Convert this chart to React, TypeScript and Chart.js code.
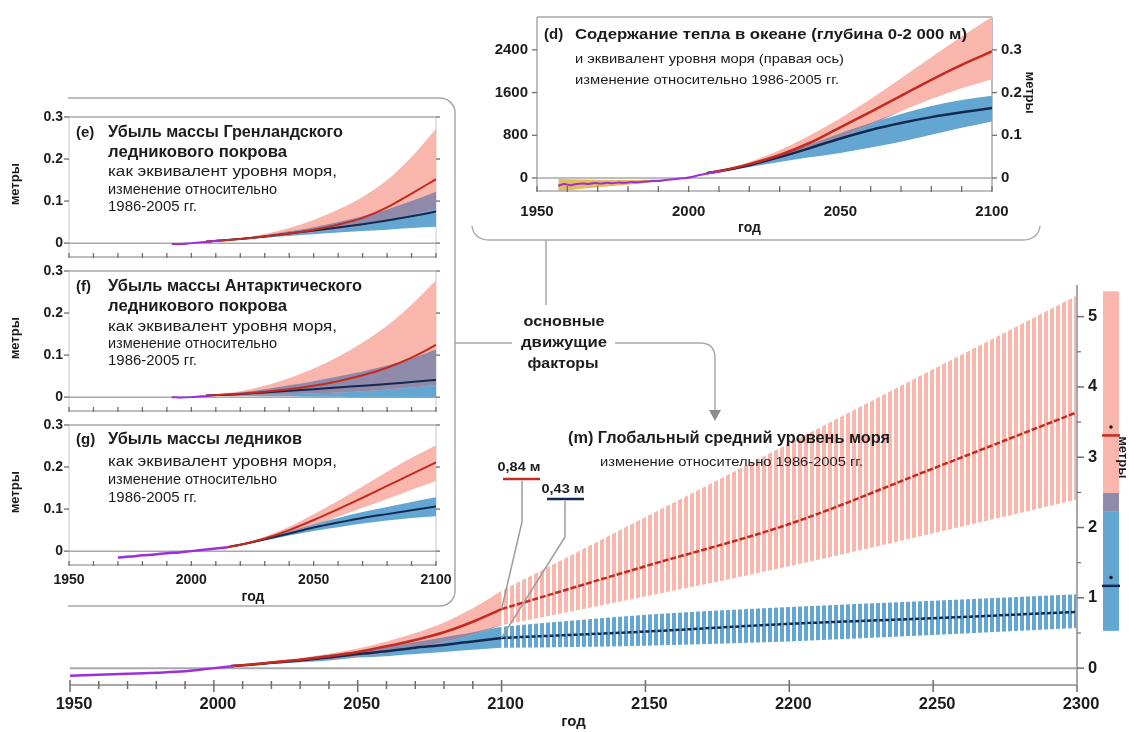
import React, { useEffect, useRef } from 'react';
import { Chart, registerables } from 'chart.js';

Chart.register(...registerables);

const W = 1129;
const H = 732;
const FONT = '"Liberation Sans", Arial, sans-serif';

const PINK = '#F8B6AC';
const BLUE = '#64A6D2';
const OVERLAP = '#8F8AAA';
const RED = '#C42A1F';
const NAVY = '#13294F';
const PURPLE = '#9B30D8';
const GOLD = '#E5BB60';
const FRAME = '#A8A8A8';
const TICK = '#6E6E6E';
const INK = '#1C1C1C';
const LEADER = '#9C9C9C';

// ---------- (m) global mean sea level, metres relative to 1986-2005 ----------
const gmslObsYears = [1950, 1960, 1970, 1980, 1990, 2000, 2007];
const gmslObs = [-0.11, -0.095, -0.08, -0.065, -0.045, 0.0, 0.03];

const gmslYears = [2006, 2010, 2020, 2030, 2040, 2050, 2060, 2070, 2080, 2090, 2100];
const gmslRcp85 = [0.03, 0.04, 0.08, 0.12, 0.17, 0.23, 0.31, 0.4, 0.51, 0.66, 0.84];
const gmslRcp85Low = [0.03, 0.035, 0.065, 0.095, 0.13, 0.17, 0.22, 0.29, 0.37, 0.48, 0.61];
const gmslRcp85High = [0.03, 0.045, 0.095, 0.145, 0.205, 0.28, 0.38, 0.5, 0.65, 0.85, 1.1];
const gmslRcp26 = [0.03, 0.04, 0.075, 0.11, 0.15, 0.2, 0.24, 0.29, 0.33, 0.38, 0.43];
const gmslRcp26Low = [0.03, 0.035, 0.06, 0.085, 0.11, 0.15, 0.17, 0.2, 0.23, 0.26, 0.29];
const gmslRcp26High = [0.03, 0.045, 0.09, 0.135, 0.19, 0.24, 0.3, 0.37, 0.44, 0.51, 0.59];

const gmslExtYears = [2100, 2150, 2200, 2250, 2300];
const gmslExtHigh = [0.84, 1.45, 2.05, 2.84, 3.64];
const gmslExtHighLow = [0.61, 1.02, 1.45, 1.92, 2.4];
const gmslExtHighHigh = [1.1, 2.15, 3.2, 4.25, 5.3];
const gmslExtLow = [0.43, 0.52, 0.63, 0.71, 0.8];
const gmslExtLowLow = [0.29, 0.32, 0.38, 0.47, 0.57];
const gmslExtLowHigh = [0.59, 0.76, 0.87, 0.96, 1.05];

// ranges for 2300 shown as bars beside the axis
const range2300High = [2.23, 5.36];
const median2300High = 3.31;
const mean2300High = 3.43;
const range2300Low = [0.53, 2.49];
const median2300Low = 1.17;
const mean2300Low = 1.29;

const gmslTickYears = [1950, 1960, 1970, 1980, 1990, 2000, 2010, 2020, 2030, 2040, 2050, 2060, 2070, 2080, 2090, 2100, 2150, 2200, 2250, 2300];
const gmslLabelYears = [1950, 2000, 2050, 2100, 2150, 2200, 2250, 2300];
const gmslMetreLabels = [0, 1, 2, 3, 4, 5];
const gmslMetreMinor = [0.5, 1.5, 2.5, 3.5, 4.5];

// ---------- (d) ocean heat content 0-2000 m ----------
const heatObsYears = [1957, 1959, 1961, 1963, 1965, 1967, 1969, 1971, 1973, 1975, 1977, 1979, 1981, 1983, 1985, 1987, 1989, 1991, 1993, 1995, 1997, 1999, 2001, 2003, 2005, 2007, 2009, 2011];
const heatObs = [-145, -115, -135, -112, -105, -112, -96, -104, -90, -98, -86, -90, -76, -80, -70, -60, -56, -50, -32, -26, -10, 0, 20, 48, 68, 92, 110, 128];
const heatBandYears = [1957, 1965, 1975, 1985, 1993];
const heatBandLow = [-250, -200, -150, -100, -45];
const heatBandHigh = [-20, -30, -40, -35, -20];

const heatYears = [2006, 2010, 2020, 2030, 2040, 2050, 2060, 2070, 2080, 2090, 2100];
const heatRcp85 = [90, 130, 260, 430, 660, 950, 1240, 1540, 1840, 2120, 2370];
const heatRcp85Low = [90, 120, 225, 360, 540, 760, 1000, 1250, 1480, 1680, 1850];
const heatRcp85High = [90, 140, 300, 520, 800, 1120, 1480, 1870, 2260, 2650, 3020];
const heatRcp26 = [90, 125, 240, 390, 560, 740, 900, 1030, 1140, 1230, 1310];
const heatRcp26Low = [90, 115, 205, 300, 390, 470, 570, 680, 810, 940, 1060];
const heatRcp26High = [90, 135, 265, 430, 630, 840, 1030, 1200, 1350, 1460, 1540];
const heatLeftTicks = [0, 800, 1600, 2400];
const heatRightTicks = [0, 0.1, 0.2, 0.3];
const heatPerMetre = 8000;

// ---------- (e) Greenland ice sheet ----------
const greenObsYears = [1992, 1996, 2000, 2004, 2008, 2012];
const greenObs = [-0.002, -0.002, 0.0, 0.002, 0.004, 0.007];
const greenYears = [2006, 2020, 2030, 2040, 2050, 2060, 2070, 2080, 2090, 2100];
const greenRcp85 = [0.004, 0.01, 0.016, 0.023, 0.032, 0.044, 0.06, 0.085, 0.118, 0.152];
const greenRcp85Low = [0.004, 0.009, 0.014, 0.02, 0.026, 0.033, 0.042, 0.053, 0.066, 0.082];
const greenRcp85High = [0.004, 0.012, 0.022, 0.036, 0.055, 0.08, 0.11, 0.15, 0.205, 0.272];
const greenRcp26 = [0.004, 0.01, 0.016, 0.023, 0.03, 0.037, 0.045, 0.054, 0.064, 0.075];
const greenRcp26Low = [0.004, 0.008, 0.013, 0.017, 0.021, 0.025, 0.029, 0.032, 0.036, 0.039];
const greenRcp26High = [0.004, 0.011, 0.019, 0.028, 0.038, 0.05, 0.064, 0.08, 0.1, 0.122];

// ---------- (f) Antarctic ice sheet ----------
const antObsYears = [1992, 1996, 2000, 2004, 2008];
const antObs = [0.0, -0.001, 0.0, 0.002, 0.003];
const antYears = [2006, 2020, 2030, 2040, 2050, 2060, 2070, 2080, 2090, 2100];
const antRcp85 = [0.004, 0.008, 0.013, 0.019, 0.027, 0.038, 0.052, 0.07, 0.094, 0.124];
const antRcp85Low = [0.004, 0.005, 0.006, 0.007, 0.009, 0.011, 0.014, 0.018, 0.023, 0.028];
const antRcp85High = [0.004, 0.014, 0.027, 0.045, 0.068, 0.096, 0.13, 0.17, 0.22, 0.278];
const antRcp26 = [0.004, 0.007, 0.011, 0.015, 0.019, 0.023, 0.027, 0.031, 0.036, 0.041];
const antRcp26Low = [0.004, 0.003, 0.002, 0.002, 0.001, 0.001, 0.0, 0.0, 0.0, 0.0];
const antRcp26High = [0.004, 0.011, 0.019, 0.028, 0.038, 0.049, 0.061, 0.075, 0.092, 0.113];

// ---------- (g) glaciers ----------
const glacObsYears = [1970, 1975, 1980, 1985, 1990, 1995, 2000, 2005, 2010, 2015];
const glacObs = [-0.015, -0.013, -0.01, -0.008, -0.005, -0.003, 0.0, 0.003, 0.006, 0.009];
const glacYears = [2015, 2020, 2030, 2040, 2050, 2060, 2070, 2080, 2090, 2100];
const glacRcp85 = [0.01, 0.015, 0.03, 0.05, 0.074, 0.1, 0.127, 0.155, 0.183, 0.211];
const glacRcp85Low = [0.01, 0.014, 0.027, 0.043, 0.062, 0.082, 0.103, 0.124, 0.146, 0.167];
const glacRcp85High = [0.01, 0.016, 0.034, 0.058, 0.088, 0.12, 0.154, 0.189, 0.222, 0.252];
const glacRcp26 = [0.01, 0.015, 0.028, 0.042, 0.056, 0.068, 0.079, 0.088, 0.097, 0.106];
const glacRcp26Low = [0.01, 0.014, 0.025, 0.037, 0.048, 0.057, 0.066, 0.073, 0.079, 0.083];
const glacRcp26High = [0.01, 0.016, 0.031, 0.047, 0.064, 0.079, 0.093, 0.105, 0.117, 0.128];

const insetDecades = [1950, 1960, 1970, 1980, 1990, 2000, 2010, 2020, 2030, 2040, 2050, 2060, 2070, 2080, 2090, 2100];
const insetYearLabels = [1950, 2000, 2050, 2100];
const insetMetreTicks = [0, 0.1, 0.2, 0.3];
const insetSubtitle = ['как эквивалент уровня моря,', 'изменение относительно', '1986-2005 гг.'];

// ---------- drawing helpers ----------
type Ctx = CanvasRenderingContext2D;
type TextOpts = { bold?: boolean; align?: 'left' | 'center' | 'right'; width?: number; color?: string };

function text(ctx: Ctx, s: string, x: number, y: number, size: number, o: TextOpts = {}) {
  ctx.save();
  ctx.font = `${o.bold ? 'bold ' : ''}${size}px ${FONT}`;
  ctx.fillStyle = o.color ?? INK;
  ctx.textBaseline = 'middle';
  ctx.textAlign = 'left';
  const w = ctx.measureText(s).width;
  const k = o.width ? o.width / w : 1;
  const dw = w * k;
  const left = o.align === 'center' ? x - dw / 2 : o.align === 'right' ? x - dw : x;
  ctx.translate(left, y);
  ctx.scale(k, 1);
  ctx.fillText(s, 0, 0);
  ctx.restore();
}

function vtext(ctx: Ctx, s: string, x: number, y: number, size: number, clockwise: boolean) {
  ctx.save();
  ctx.translate(x, y);
  ctx.rotate(clockwise ? Math.PI / 2 : -Math.PI / 2);
  ctx.font = `bold ${size}px ${FONT}`;
  ctx.fillStyle = INK;
  ctx.textAlign = 'center';
  ctx.textBaseline = 'middle';
  ctx.fillText(s, 0, 0);
  ctx.restore();
}

function stroke(ctx: Ctx, pts: number[][], color: string, width: number) {
  ctx.save();
  ctx.strokeStyle = color;
  ctx.lineWidth = width;
  ctx.beginPath();
  pts.forEach(([px, py], i) => (i ? ctx.lineTo(px, py) : ctx.moveTo(px, py)));
  ctx.stroke();
  ctx.restore();
}

const pts = (xs: number[], ys: number[]) => xs.map((x, i) => ({ x, y: ys[i] }));
const last = (a: number[]) => a[a.length - 1];
const metres = (v: number) => `${v.toFixed(2).replace('.', ',')} м`;

function lineSet(xs: number[], ys: number[], color: string, width: number, order: number, dash: number[] = []) {
  return {
    data: pts(xs, ys),
    borderColor: color,
    borderWidth: width,
    borderDash: dash,
    pointRadius: 0,
    fill: false,
    order,
    cubicInterpolationMode: 'monotone',
  };
}

function bandSet(xs: number[], lo: number[], hi: number[], color: any, order: number) {
  const base = { borderColor: 'rgba(0,0,0,0)', borderWidth: 0, pointRadius: 0, order, cubicInterpolationMode: 'monotone' };
  return [
    { ...base, data: pts(xs, hi), fill: '+1', backgroundColor: color },
    { ...base, data: pts(xs, lo), fill: false },
  ];
}

// both scenario ranges plus their shared part
function scenarioSets(xs: number[], hi85: number[], lo85: number[], up85: number[], mid26: number[], lo26: number[], up26: number[], width: number) {
  const shLo = xs.map((_, i) => Math.max(lo85[i], lo26[i]));
  const shHi = xs.map((_, i) => Math.max(shLo[i], Math.min(up85[i], up26[i])));
  return [
    lineSet(xs, hi85, RED, width, 1),
    lineSet(xs, mid26, NAVY, width, 2),
    ...bandSet(xs, shLo, shHi, OVERLAP, 3),
    ...bandSet(xs, lo85, up85, PINK, 4),
    ...bandSet(xs, lo26, up26, BLUE, 5),
  ];
}

function stripes(color: string) {
  const c = document.createElement('canvas');
  c.width = 6;
  c.height = 4;
  const g = c.getContext('2d')!;
  g.fillStyle = color;
  g.fillRect(0, 0, 4, 4);
  return g.createPattern(c, 'repeat');
}

function makeChart(canvas: HTMLCanvasElement, datasets: any[], area: number[], xr: number[], yr: number[], plugin: any, y2?: number[]) {
  const scales: any = {
    x: { type: 'linear', display: false, min: xr[0], max: xr[1] },
    y: { type: 'linear', display: false, min: yr[0], max: yr[1] },
  };
  if (y2) scales.y2 = { type: 'linear', display: false, min: y2[0], max: y2[1] };
  return new Chart(canvas, {
    type: 'line',
    data: { datasets },
    options: {
      animation: false,
      responsive: false,
      events: [],
      layout: { padding: { left: area[0], top: area[1], right: W - area[2], bottom: H - area[3] } },
      plugins: { legend: { display: false }, tooltip: { enabled: false } },
      scales,
    },
    plugins: [plugin],
  } as any);
}

// ---------- (m) main panel ----------
function mainChart(canvas: HTMLCanvasElement) {
  const datasets = [
    lineSet(gmslObsYears, gmslObs, PURPLE, 2.5, 0),
    ...scenarioSets(gmslYears, gmslRcp85, gmslRcp85Low, gmslRcp85High, gmslRcp26, gmslRcp26Low, gmslRcp26High, 2.5),
    lineSet(gmslExtYears, gmslExtHigh, RED, 2.5, 1, [6, 2]),
    lineSet(gmslExtYears, gmslExtLow, NAVY, 2.5, 2, [4, 2]),
    ...bandSet(gmslExtYears, gmslExtHighLow, gmslExtHighHigh, stripes(PINK), 6),
    ...bandSet(gmslExtYears, gmslExtLowLow, gmslExtLowHigh, stripes(BLUE), 6),
  ];

  const decor = {
    id: 'mainDecor',
    beforeDatasetsDraw(chart: any) {
      const { ctx, chartArea: a } = chart;
      const y0 = chart.scales.y.getPixelForValue(0);
      stroke(ctx, [[a.left, y0], [a.right, y0]], FRAME, 2);
    },
    afterDatasetsDraw(chart: any) {
      const { ctx, chartArea: a } = chart;
      const x = chart.scales.x;
      const y = chart.scales.y;

      // time axis
      stroke(ctx, [[a.left, a.bottom], [a.right, a.bottom]], FRAME, 2);
      gmslTickYears.forEach((yr) => {
        const px = x.getPixelForValue(yr);
        const major = yr % 50 === 0;
        stroke(ctx, [[px, a.bottom - (major ? 5 : 4)], [px, a.bottom + (major ? 7 : 4)]], TICK, 1.5);
      });
      gmslLabelYears.forEach((yr) => text(ctx, String(yr), x.getPixelForValue(yr) + 4, a.bottom + 19, 16.5, { bold: true, align: 'center' }));
      text(ctx, 'год', (a.left + a.right) / 2, a.bottom + 37, 15, { bold: true, align: 'center' });

      // metre axis on the right
      stroke(ctx, [[a.right, a.top], [a.right, a.bottom]], FRAME, 2);
      gmslMetreMinor.forEach((v) => {
        const py = y.getPixelForValue(v);
        stroke(ctx, [[a.right, py], [a.right + 4, py]], TICK, 1.2);
      });
      gmslMetreLabels.forEach((v) => {
        const py = y.getPixelForValue(v);
        stroke(ctx, [[a.right, py], [a.right + 7, py]], TICK, 1.5);
        text(ctx, String(v), a.right + 11, py, 16.5, { bold: true });
      });

      // 2300 range bars
      const bx = a.right + 26;
      const bw = 16;
      const fillRange = (lo: number, hi: number, color: string) => {
        const top = y.getPixelForValue(hi);
        ctx.fillStyle = color;
        ctx.fillRect(bx, top, bw, y.getPixelForValue(lo) - top);
      };
      fillRange(range2300Low[0], range2300Low[1], BLUE);
      fillRange(range2300High[0], range2300High[1], PINK);
      fillRange(range2300High[0], range2300Low[1], OVERLAP);
      [[median2300High, RED], [median2300Low, NAVY]].forEach(([v, c]) => {
        const py = y.getPixelForValue(v as number);
        stroke(ctx, [[bx - 1, py], [bx + bw + 1, py]], c as string, 2.5);
      });
      [mean2300High, mean2300Low].forEach((v) => {
        ctx.beginPath();
        ctx.arc(bx + bw / 2, y.getPixelForValue(v), 1.8, 0, Math.PI * 2);
        ctx.fillStyle = INK;
        ctx.fill();
      });
      vtext(ctx, 'метры', a.right + 46, y.getPixelForValue(3.0), 13, true);

      // callouts for the 2100 values
      const px = x.getPixelForValue(last(gmslYears));
      const p85 = y.getPixelForValue(last(gmslRcp85));
      const p26 = y.getPixelForValue(last(gmslRcp26));
      stroke(ctx, [[522, 481], [522, 522], [px, p85]], LEADER, 1.5);
      stroke(ctx, [[565, 501], [565, 537], [px, p26]], LEADER, 1.5);
      text(ctx, metres(last(gmslRcp85)), 519, 467, 13, { bold: true, align: 'center', width: 43 });
      stroke(ctx, [[503, 479], [540, 479]], RED, 2.5);
      text(ctx, metres(last(gmslRcp26)), 563, 489, 13, { bold: true, align: 'center', width: 43 });
      stroke(ctx, [[547, 499], [584, 499]], NAVY, 2.5);
    },
    afterDraw(chart: any) {
      const ctx: Ctx = chart.ctx;
      // frame around the driver panels
      ctx.save();
      ctx.strokeStyle = FRAME;
      ctx.lineWidth = 1.5;
      ctx.beginPath();
      ctx.moveTo(68, 98);
      ctx.lineTo(440, 98);
      ctx.arcTo(455, 98, 455, 113, 15);
      ctx.lineTo(455, 591);
      ctx.arcTo(455, 606, 440, 606, 15);
      ctx.lineTo(68, 606);
      ctx.stroke();
      // bracket under panel (d)
      ctx.beginPath();
      ctx.moveTo(472, 226);
      ctx.quadraticCurveTo(474, 240, 490, 240);
      ctx.lineTo(1022, 240);
      ctx.quadraticCurveTo(1038, 240, 1040, 226);
      ctx.moveTo(546, 240);
      ctx.lineTo(546, 305);
      // connectors to the main panel
      ctx.moveTo(455, 343);
      ctx.lineTo(512, 343);
      ctx.moveTo(615, 343);
      ctx.lineTo(700, 343);
      ctx.quadraticCurveTo(715, 343, 715, 358);
      ctx.lineTo(715, 412);
      ctx.stroke();
      ctx.fillStyle = '#8C8C8C';
      ctx.beginPath();
      ctx.moveTo(709, 410);
      ctx.lineTo(721, 410);
      ctx.lineTo(715, 421);
      ctx.closePath();
      ctx.fill();
      ctx.restore();

      text(ctx, 'основные', 564, 322, 15, { bold: true, align: 'center', width: 81 });
      text(ctx, 'движущие', 564, 343, 15, { bold: true, align: 'center', width: 86 });
      text(ctx, 'факторы', 563, 364, 15, { bold: true, align: 'center', width: 71 });

      text(ctx, '(m) Глобальный средний уровень моря', 568, 439, 16, { bold: true, width: 322 });
      text(ctx, 'изменение относительно 1986-2005 гг.', 600, 462, 13, { width: 263 });
    },
  };

  return makeChart(canvas, datasets, [70, 285, 1077, 685], [1950, 2300], [-0.24, 5.45], decor);
}

// ---------- (d) ocean heat panel ----------
function heatChart(canvas: HTMLCanvasElement) {
  const datasets = [
    lineSet(heatObsYears, heatObs, PURPLE, 2, 0),
    ...scenarioSets(heatYears, heatRcp85, heatRcp85Low, heatRcp85High, heatRcp26, heatRcp26Low, heatRcp26High, 2.5),
    ...bandSet(heatBandYears, heatBandLow, heatBandHigh, GOLD, 6),
  ];
  const yr = [-244, 3016];
  const decor = {
    id: 'heatDecor',
    beforeDatasetsDraw(chart: any) {
      const { ctx, chartArea: a } = chart;
      const y0 = chart.scales.y.getPixelForValue(0);
      stroke(ctx, [[a.left, a.top], [a.right, a.top]], FRAME, 1.5);
      stroke(ctx, [[a.left, a.top], [a.left, a.bottom]], FRAME, 1.5);
      stroke(ctx, [[a.right, a.top], [a.right, a.bottom]], FRAME, 1.5);
      stroke(ctx, [[a.left, y0], [a.right, y0]], FRAME, 1.5);
    },
    afterDatasetsDraw(chart: any) {
      const { ctx, chartArea: a } = chart;
      const x = chart.scales.x;
      const y = chart.scales.y;
      const y2 = chart.scales.y2;
      stroke(ctx, [[a.left, a.bottom], [a.right, a.bottom]], FRAME, 1.5);
      insetDecades.forEach((yr0) => {
        const px = x.getPixelForValue(yr0);
        stroke(ctx, [[px, a.bottom - 5], [px, a.bottom + 1]], TICK, 1.3);
      });
      insetYearLabels.forEach((yr0) => text(ctx, String(yr0), x.getPixelForValue(yr0), a.bottom + 21, 15, { bold: true, align: 'center' }));
      text(ctx, 'год', (a.left + a.right) / 2 - 15, a.bottom + 37, 14, { bold: true, align: 'center' });
      heatLeftTicks.forEach((v) => {
        const py = y.getPixelForValue(v);
        stroke(ctx, [[a.left - 5, py], [a.left, py]], TICK, 1.3);
        text(ctx, String(v), a.left - 9, py, 15, { bold: true, align: 'right' });
      });
      heatRightTicks.forEach((v) => {
        const py = y2.getPixelForValue(v);
        stroke(ctx, [[a.right, py], [a.right + 5, py]], TICK, 1.3);
        text(ctx, v === 0 ? '0' : v.toFixed(1), a.right + 9, py, 15, { bold: true });
      });
      vtext(ctx, 'метры', a.right + 38, y2.getPixelForValue(0.2), 13, true);
      text(ctx, '(d)', 544, 35, 15, { bold: true });
      text(ctx, 'Содержание тепла в океане (глубина 0-2 000 м)', 575, 35, 15, { bold: true, width: 392 });
      text(ctx, 'и эквивалент уровня моря (правая ось)', 575, 59, 13, { width: 269 });
      text(ctx, 'изменение относительно 1986-2005 гг.', 575, 80, 13, { width: 264 });
    },
  };
  return makeChart(canvas, datasets, [537, 17, 992, 191], [1950, 2100], yr, decor, [yr[0] / heatPerMetre, yr[1] / heatPerMetre]);
}

// ---------- (e), (f), (g) driver panels ----------
type InsetText = { tag: string; title: string[]; titleW: number[]; titleY: number[]; subY: number[]; axis: boolean };

function insetChart(canvas: HTMLCanvasElement, area: number[], datasets: any[], t: InsetText) {
  const subW = [229, 169, 89];
  const decor = {
    id: 'insetDecor',
    beforeDatasetsDraw(chart: any) {
      const { ctx, chartArea: a } = chart;
      const y0 = chart.scales.y.getPixelForValue(0);
      stroke(ctx, [[a.left, a.top], [a.right, a.top]], FRAME, 1.5);
      stroke(ctx, [[a.left, a.top], [a.left, a.bottom]], '#C8C8C8', 1);
      stroke(ctx, [[a.right, a.top], [a.right, a.bottom]], '#C8C8C8', 1);
      stroke(ctx, [[a.left, y0], [a.right, y0]], FRAME, 1.5);
    },
    afterDatasetsDraw(chart: any) {
      const { ctx, chartArea: a } = chart;
      const x = chart.scales.x;
      const y = chart.scales.y;
      stroke(ctx, [[a.left, a.bottom], [a.right, a.bottom]], FRAME, 1.5);
      insetDecades.forEach((yr) => {
        const px = x.getPixelForValue(yr);
        stroke(ctx, [[px, a.bottom - 4], [px, a.bottom + 1]], TICK, 1.3);
      });
      insetMetreTicks.forEach((v) => {
        const py = y.getPixelForValue(v);
        stroke(ctx, [[a.left - 5, py], [a.left, py]], TICK, 1.3);
        stroke(ctx, [[a.right, py], [a.right + 4, py]], TICK, 1.3);
        text(ctx, v === 0 ? '0' : v.toFixed(1), a.left - 6, py, 14, { bold: true, align: 'right' });
      });
      vtext(ctx, 'метры', 15, y.getPixelForValue(0.14), 13, false);
      text(ctx, t.tag, 76, t.titleY[0], 15, { bold: true });
      t.title.forEach((s, i) => text(ctx, s, 108, t.titleY[i], 16, { bold: true, width: t.titleW[i] }));
      insetSubtitle.forEach((s, i) => text(ctx, s, 108, t.subY[i], 14, { width: subW[i] }));
      if (t.axis) {
        insetYearLabels.forEach((yr) => text(ctx, String(yr), x.getPixelForValue(yr), a.bottom + 15, 14, { bold: true, align: 'center' }));
        text(ctx, 'год', 253, a.bottom + 32, 14, { bold: true, align: 'center' });
      }
    },
  };
  return makeChart(canvas, datasets, area, [1950, 2100], [-0.033, 0.3], decor);
}

export default function App() {
  const mainRef = useRef<HTMLCanvasElement>(null);
  const heatRef = useRef<HTMLCanvasElement>(null);
  const greenRef = useRef<HTMLCanvasElement>(null);
  const antRef = useRef<HTMLCanvasElement>(null);
  const glacRef = useRef<HTMLCanvasElement>(null);

  useEffect(() => {
    const charts = [
      mainChart(mainRef.current!),
      heatChart(heatRef.current!),
      insetChart(
        greenRef.current!,
        [69, 117, 436, 257],
        [lineSet(greenObsYears, greenObs, PURPLE, 2, 0), ...scenarioSets(greenYears, greenRcp85, greenRcp85Low, greenRcp85High, greenRcp26, greenRcp26Low, greenRcp26High, 2)],
        { tag: '(e)', title: ['Убыль массы Гренландского', 'ледникового покрова'], titleW: [235, 179], titleY: [133, 153], subY: [172, 190, 207], axis: false }
      ),
      insetChart(
        antRef.current!,
        [69, 271, 436, 411],
        [lineSet(antObsYears, antObs, PURPLE, 2, 0), ...scenarioSets(antYears, antRcp85, antRcp85Low, antRcp85High, antRcp26, antRcp26Low, antRcp26High, 2)],
        { tag: '(f)', title: ['Убыль массы Антарктического', 'ледникового покрова'], titleW: [254, 179], titleY: [287, 307], subY: [327, 344, 361], axis: false }
      ),
      insetChart(
        glacRef.current!,
        [69, 425, 436, 565],
        [lineSet(glacObsYears, glacObs, PURPLE, 2.5, 0), ...scenarioSets(glacYears, glacRcp85, glacRcp85Low, glacRcp85High, glacRcp26, glacRcp26Low, glacRcp26High, 2)],
        { tag: '(g)', title: ['Убыль массы ледников'], titleW: [194], titleY: [440], subY: [462, 480, 498], axis: true }
      ),
    ];
    return () => charts.forEach((c) => c.destroy());
  }, []);

  const layer: React.CSSProperties = { position: 'absolute', left: 0, top: 0, width: W, height: H };
  return (
    <div style={{ position: 'fixed', left: 0, top: 0, width: W, height: H, background: '#fff', overflow: 'hidden' }}>
      <canvas ref={mainRef} width={W} height={H} style={layer} />
      <canvas ref={heatRef} width={W} height={H} style={layer} />
      <canvas ref={greenRef} width={W} height={H} style={layer} />
      <canvas ref={antRef} width={W} height={H} style={layer} />
      <canvas ref={glacRef} width={W} height={H} style={layer} />
    </div>
  );
}
